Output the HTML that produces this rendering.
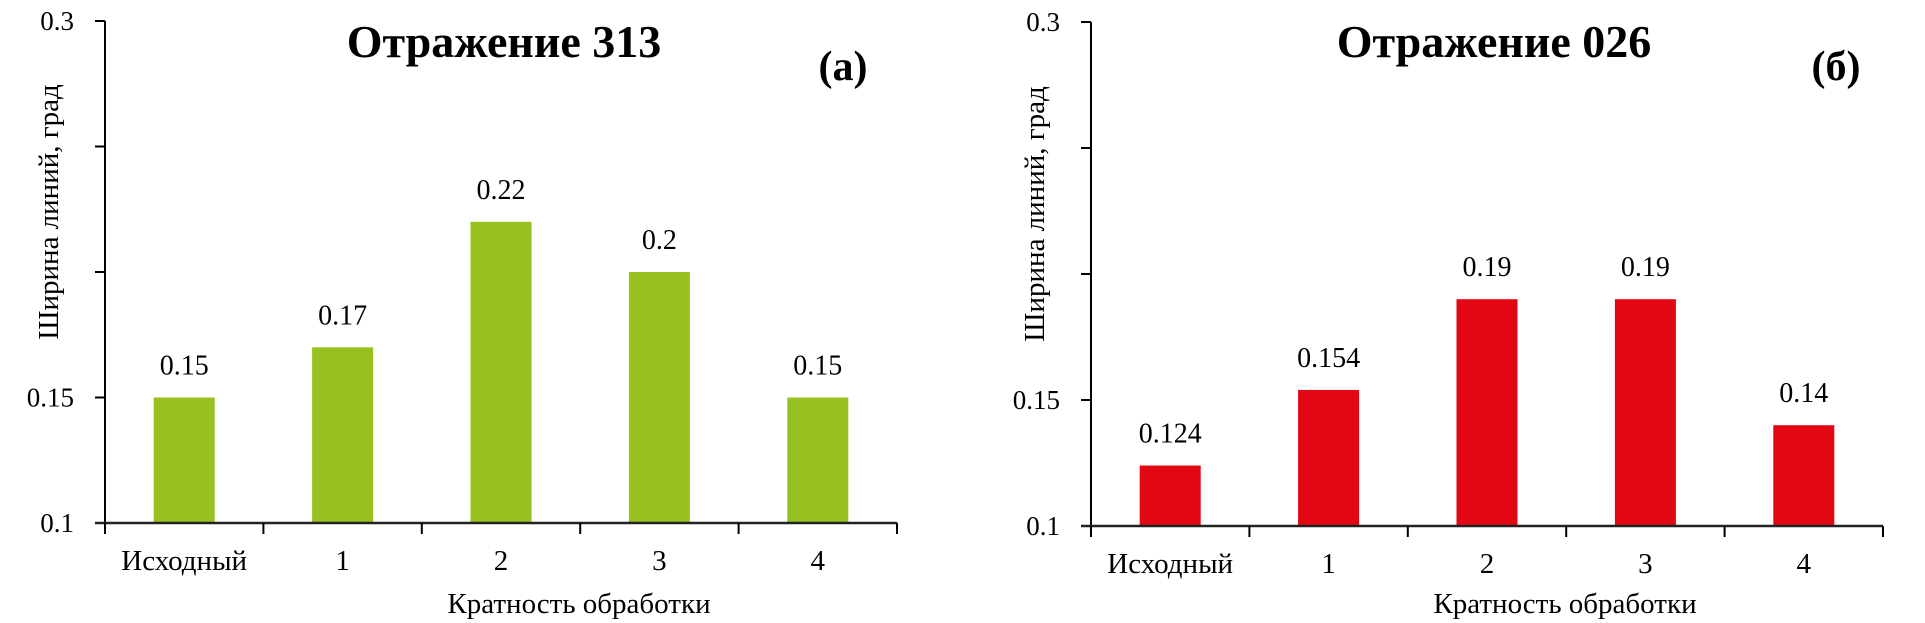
<!DOCTYPE html>
<html><head><meta charset="utf-8"><style>
html,body{margin:0;padding:0;background:#fff;}
svg{display:block;font-family:"Liberation Serif","Noto Serif CJK SC",serif;}
</style></head><body>
<svg id="chart" width="1925" height="623" viewBox="0 0 1925 623" xmlns="http://www.w3.org/2000/svg"></svg>
<script>
const categories = ["Исходный","1","2","3","4"];
const valuesA = [0.15,0.17,0.22,0.2,0.15];
const labelsA = ["0.15","0.17","0.22","0.2","0.15"];
const valuesB = [0.124,0.154,0.19,0.19,0.14];
const labelsB = ["0.124","0.154","0.19","0.19","0.14"];
const yTicks = [0.1,0.15,0.2,0.25,0.3];
const yTickLabels = ["0.1","0.15","","","0.3"];
const NS="http://www.w3.org/2000/svg";
const svg=document.getElementById('chart');
function mk(tag,attrs,parent){const e=document.createElementNS(NS,tag);for(const k in attrs)e.setAttribute(k,attrs[k]);(parent||svg).appendChild(e);return e;}
function panel(cfg){
  const g=mk('g',{});
  
  
  const x0=cfg.x0,x1=cfg.x1,yTop=cfg.yTop,yBot=cfg.yBot;
  const ymin=0.1,ymax=0.3;
  const Y=v=>yBot-(v-ymin)/(ymax-ymin)*(yBot-yTop);
  const cw=(x1-x0)/categories.length;
  const X=i=>x0+cw*(i+0.5);
  cfg.values.forEach((v,i)=>{
    const r=mk('rect',{x:X(i)-30.5,y:Y(v),width:61,height:yBot-Y(v),fill:cfg.color},g);
    
    
    const t=mk('text',{x:X(i),y:Y(v)-23,'font-size':28,'text-anchor':'middle',fill:'#000'},g);
    t.textContent=cfg.labels[i];
    
    
  });
  const ya=mk('line',{x1:x0,y1:yTop,x2:x0,y2:yBot,stroke:'#000','stroke-width':2},g);
  
  
  yTicks.forEach((v,i)=>{
    mk('line',{x1:x0-10,y1:Y(v),x2:x0,y2:Y(v),stroke:'#000','stroke-width':2},g);
    if(yTickLabels[i]){
      const t=mk('text',{x:x0-31,y:Y(v)+9,'font-size':27,'text-anchor':'end',fill:'#000'},g);
      t.textContent=yTickLabels[i];
      
      
    }
  });
  const xa=mk('line',{x1:x0-10,y1:yBot,x2:x1,y2:yBot,stroke:'#222','stroke-width':2.5},g);
  
  
  for(let i=0;i<=categories.length;i++){
    mk('line',{x1:x0+cw*i,y1:yBot,x2:x0+cw*i,y2:yBot+11,stroke:'#000','stroke-width':2},g);
  }
  categories.forEach((c,i)=>{
    const t=mk('text',{x:X(i),y:yBot+47,'font-size':29,'text-anchor':'middle',fill:'#000'},g);
    t.textContent=c;
    
    
  });
  const xt=mk('text',{x:(x0+x1)/2+78,y:613,'font-size':29,'text-anchor':'middle',fill:'#000'},g);
  xt.textContent='Кратность обработки';
  
  
  const yt=mk('text',{x:0,y:0,'font-size':29,'text-anchor':'middle',fill:'#000',transform:`translate(${x0-47},${(yTop+yBot)/2-60}) rotate(-90)`},g);
  yt.textContent='Ширина линий, град';
  
  
  const tt=mk('text',{x:cfg.titleX,y:57,'font-size':46,'font-weight':'bold','text-anchor':'middle',fill:'#000'},g);
  tt.textContent=cfg.title;
  
  
  const pl=mk('text',{x:cfg.tagX,y:80,'font-size':42,'font-weight':'bold','text-anchor':'middle',fill:'#000'},g);
  pl.textContent=cfg.tag;
  
  
}
panel({name:'chart-313',x0:105,x1:897,yTop:21,yBot:523,values:valuesA,labels:labelsA,color:'#96c11f',title:'Отражение 313',titleX:504,tag:'(а)',tagX:843});
panel({name:'chart-026',x0:1091,x1:1883,yTop:22,yBot:526,values:valuesB,labels:labelsB,color:'#e30613',title:'Отражение 026',titleX:1494,tag:'(б)',tagX:1836});
</script>
</body></html>
